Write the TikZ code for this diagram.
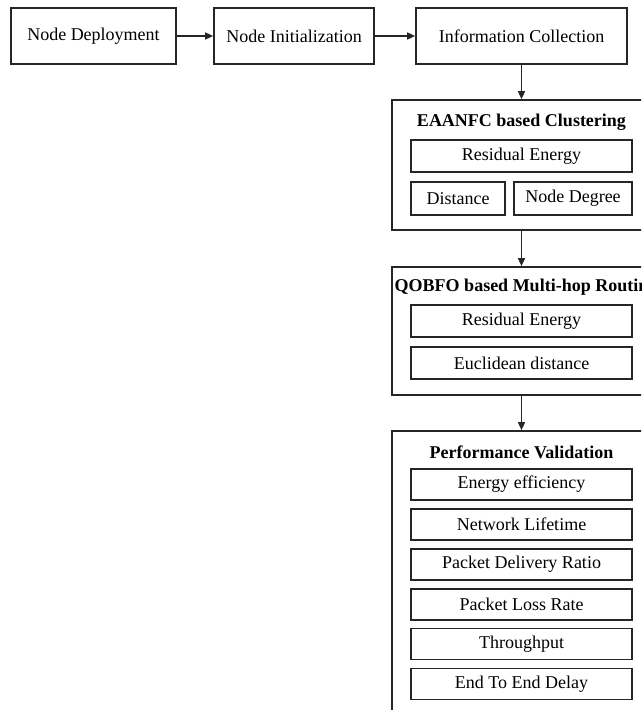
\documentclass[tikz,border=0pt]{standalone}
\usepackage{fontspec}
\setmainfont{Liberation Serif}
\usetikzlibrary{arrows.meta}
\begin{document}
\begin{tikzpicture}[x=1pt,y=-1pt,
  box/.style={draw=black!85,line width=1.7pt,inner sep=0pt,font=\fontsize{18}{20}\selectfont},
  outerbox/.style={draw=black!85,line width=1.7pt,inner sep=0pt},
  title/.style={inner sep=0pt,font=\fontsize{18}{20}\selectfont\bfseries},
  arr/.style={line width=1.5pt,draw=black!85,-{Triangle[length=8pt,width=7pt]}}]
\useasboundingbox (0,0) rectangle (641,710);
\clip (0,0) rectangle (641,710);
\fill[white] (0,0) rectangle (641,710);
% top row
\node[box,minimum width=165pt,minimum height=56pt] (dep) at (93.5,36) {Node Deployment};
\node[box,minimum width=160pt,minimum height=56pt] (init) at (294,36) {Node Initialization};
\node[box,minimum width=211pt,minimum height=56pt] (info) at (521.5,36) {Information Collection};
% clustering
\node[outerbox,minimum width=259pt,minimum height=130pt] (clus) at (521.5,165) {};
\node[title] (clust) at (521.5,122) {EAANFC based Clustering};
\node[box,minimum width=221pt,minimum height=32pt] (cre) at (521.5,156) {Residual Energy};
\node[box,minimum width=94pt,minimum height=33pt] (cdist) at (458,198.5) {Distance};
\node[box,minimum width=118pt,minimum height=33pt] (cdeg) at (573,198.5) {Node Degree};
% routing
\node[outerbox,minimum width=259pt,minimum height=128pt] (rout) at (521.5,331) {};
\node[title] (routt) at (526,287) {QOBFO based Multi-hop Routing};
\node[box,minimum width=221pt,minimum height=32pt] (rre) at (521.5,321) {Residual Energy};
\node[box,minimum width=221pt,minimum height=32pt] (reuc) at (521.5,363) {Euclidean distance};
% performance
\node[outerbox,minimum width=259pt,minimum height=299pt] (perf) at (521.5,580.5) {};
\node[title] (perft) at (521.5,452) {Performance Validation};
\node[box,minimum width=221pt,minimum height=31pt] (p1) at (521.5,484.5) {Energy efficiency};
\node[box,minimum width=221pt,minimum height=31pt] (p2) at (521.5,524.5) {Network Lifetime};
\node[box,minimum width=221pt,minimum height=31pt] (p3) at (521.5,564.5) {Packet Delivery Ratio};
\node[box,minimum width=221pt,minimum height=31pt] (p4) at (521.5,604.5) {Packet Loss Rate};
\node[box,minimum width=221pt,minimum height=31pt] (p5) at (521.5,644) {Throughput};
\node[box,minimum width=221pt,minimum height=31pt] (p6) at (521.5,684) {End To End Delay};
% arrows
\draw[arr] (dep.east) -- (init.west);
\draw[arr] (init.east) -- (info.west);
\draw[arr] (info.south) -- (clus.north);
\draw[arr] (clus.south) -- (rout.north);
\draw[arr] (rout.south) -- (perf.north);
\end{tikzpicture}
\end{document}
